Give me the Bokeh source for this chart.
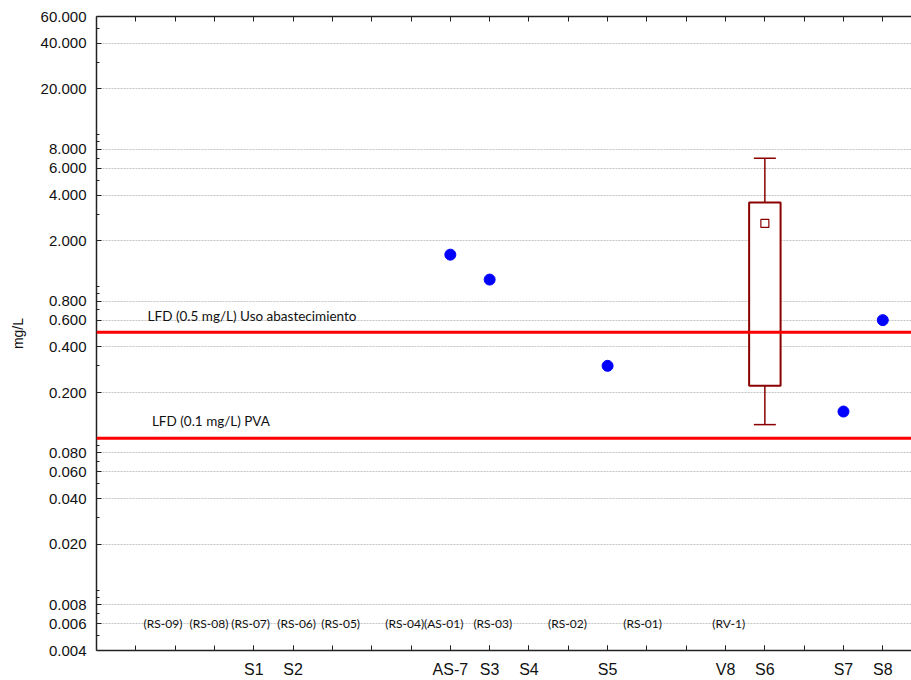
from bokeh.plotting import figure
from bokeh.models import (Range1d, FixedTicker, PrintfTickFormatter, LinearAxis,
                          Span, ColumnDataSource, Label)
from bokeh.embed import file_html
from bokeh.resources import INLINE
from bokeh.core.properties import value

# Sampling slots along the x axis (blank = unlabeled slot)
slots = ["", "", "", "S1", "S2", "", "", "", "AS-7", "S3",
         "S4", "", "S5", "", "", "V8", "S6", "", "S7", "S8"]

# Single measurements (mg/L)
point_stations = ["AS-7", "S3", "S5", "S7", "S8"]
point_values = [1.62, 1.11, 0.30, 0.15, 0.60]

# Summary for S6 (mg/L)
box_station = "S6"
box_low = 0.123
box_q1 = 0.222
box_mid = 2.6
box_q3 = 3.57
box_high = 7.0

# Reference limits
limit_values = [0.5, 0.1]
limit_labels = ["LFD (0.5 mg/L) Uso abastecimiento", "LFD (0.1 mg/L) PVA"]

# Former site codes written along the bottom of the plot
site_codes = ["(RS-09)", "(RS-08)", "(RS-07)", "(RS-06)", "(RS-05)", "(RS-04)",
              "(AS-01)", "(RS-03)", "(RS-02)", "(RS-01)", "(RV-1)"]
site_code_x = [1.69, 2.86, 3.92, 5.09, 6.21, 7.84, 8.83, 10.08, 11.98, 13.89, 16.08]
site_code_level = 0.006

# Y axis ticks
y_major = [0.004, 0.006, 0.008, 0.02, 0.04, 0.06, 0.08, 0.2, 0.4, 0.6, 0.8,
           2, 4, 6, 8, 20, 40, 60]
y_minor = [0.005, 0.007, 0.009, 0.01, 0.03, 0.05, 0.07, 0.09, 0.1, 0.3, 0.5,
           0.7, 0.9, 1, 3, 5, 7, 9, 10, 30, 50]

slot_x = {name: i + 1 for i, name in enumerate(slots) if name}
all_slots = list(range(1, len(slots) + 1))
labeled_slots = [i + 1 for i, name in enumerate(slots) if name]

AXIS_FONT = "Liberation Sans"
NOTE_FONT = "Lato"
INK = "#222222"

p = figure(width=911, height=680, output_backend="svg", toolbar_location=None,
           y_axis_type="log", x_range=Range1d(0, 20.73), y_range=Range1d(0.004, 60),
           min_border_left=96, min_border_right=0, min_border_top=16,
           min_border_bottom=30)
p.outline_line_color = None
p.background_fill_color = "white"

# Bottom axis: labeled slots as major ticks, every slot gets a tick mark
p.xaxis.ticker = FixedTicker(ticks=labeled_slots, minor_ticks=all_slots)
p.xaxis.major_label_overrides = {i: slots[i - 1] for i in labeled_slots}
p.yaxis.ticker = FixedTicker(ticks=y_major, minor_ticks=y_minor)
p.yaxis.formatter = PrintfTickFormatter(format="%.3f")
p.yaxis.axis_label = "mg/L"

for ax in (p.xaxis[0], p.yaxis[0]):
    ax.axis_line_color = INK
    ax.axis_line_width = 1.5
    ax.major_tick_line_color = INK
    ax.minor_tick_line_color = INK
    ax.major_tick_in = 5
    ax.major_tick_out = 0
    ax.minor_tick_out = 0
    ax.major_label_text_font = AXIS_FONT
    ax.major_label_text_color = "#111111"

p.xaxis.minor_tick_in = 5
p.yaxis.minor_tick_in = 3
p.xaxis.major_label_text_font_size = "16px"
p.xaxis.major_label_standoff = 10
p.yaxis.major_label_text_font_size = "15px"
p.yaxis.major_label_standoff = 10
p.yaxis.axis_label_text_font = AXIS_FONT
p.yaxis.axis_label_text_font_size = "14px"
p.yaxis.axis_label_text_font_style = "normal"
p.yaxis.axis_label_text_color = "#111111"
p.yaxis.axis_label_standoff = 12

# Top axis: tick marks only
top_axis = LinearAxis(ticker=FixedTicker(ticks=[], minor_ticks=all_slots),
                      major_label_text_font_size="15px", major_label_standoff=0,
                      major_tick_in=0, major_tick_out=0,
                      minor_tick_in=5, minor_tick_out=0, minor_tick_line_color=INK,
                      axis_line_color=INK, axis_line_width=1.5)
p.add_layout(top_axis, "above")

# Grid
p.xgrid.visible = False
p.ygrid.grid_line_color = "#c4c4c4"
p.ygrid.grid_line_dash = "2 1"
p.ygrid.grid_line_width = 1

# Site codes
p.text(x=site_code_x, y=[site_code_level] * len(site_codes), text=site_codes,
       text_font=value(NOTE_FONT), text_font_size="12px", text_align="center",
       text_baseline="middle", text_color="#111111")

# Limit lines with labels
label_x = [1.30, 1.41]
label_dy = [16, 17]
for val, txt, lx, dy in zip(limit_values, limit_labels, label_x, label_dy):
    p.add_layout(Span(location=val, dimension="width", line_color="#ff0000", line_width=3))
    p.add_layout(Label(x=lx, y=val, y_offset=dy, text=txt, text_font=NOTE_FONT,
                       text_font_size="13.5px", text_baseline="middle",
                       text_color="#111111"))

# S6 box with whiskers and central marker
bx = slot_x[box_station]
box_color = "#8b0000"
p.segment(x0=[bx, bx], y0=[box_q3, box_q1], x1=[bx, bx], y1=[box_high, box_low],
          line_color=box_color, line_width=1.5)
p.segment(x0=[bx - 0.28, bx - 0.28], y0=[box_high, box_low],
          x1=[bx + 0.28, bx + 0.28], y1=[box_high, box_low],
          line_color=box_color, line_width=1.5)
p.quad(left=[bx - 0.4], right=[bx + 0.4], bottom=[box_q1], top=[box_q3],
       fill_color="white", line_color=box_color, line_width=2)
p.scatter(x=[bx], y=[box_mid], marker="square", size=8, fill_color="white",
          line_color=box_color, line_width=1.2)

# Individual measurements
pts = ColumnDataSource(data=dict(x=[slot_x[s] for s in point_stations], y=point_values))
p.scatter(x="x", y="y", source=pts, marker="circle", size=11, fill_color="#0000ff",
          line_color="#0000ff")

open("out.html", "w").write(file_html(p, INLINE))
